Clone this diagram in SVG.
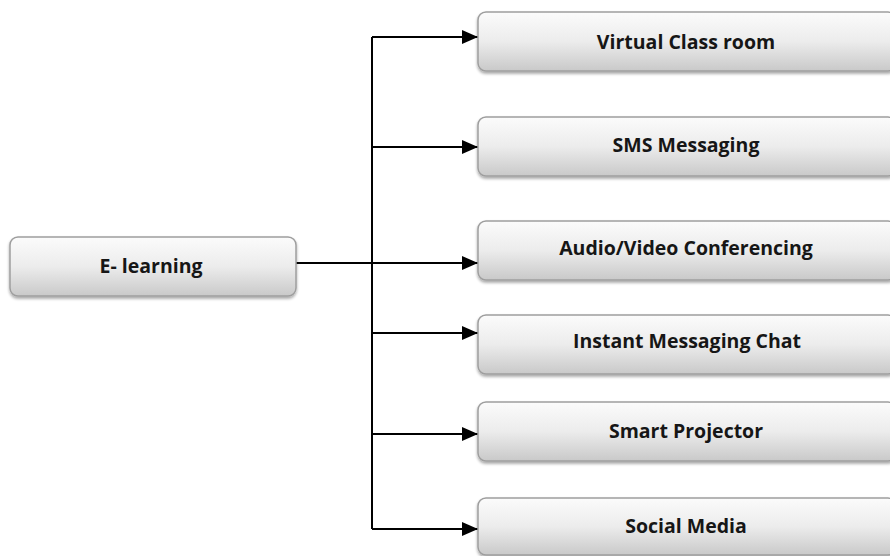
<svg xmlns="http://www.w3.org/2000/svg" width="890" height="556" viewBox="0 0 890 556">
<defs>
<linearGradient id="g" x1="0" y1="0" x2="0" y2="1">
<stop offset="0" stop-color="#fbfbfb"/>
<stop offset="0.5" stop-color="#ececec"/>
<stop offset="1" stop-color="#c9c9c9"/>
</linearGradient>
<filter id="sh" x="-5%" y="-10%" width="110%" height="130%">
<feGaussianBlur in="SourceAlpha" stdDeviation="1.5"/>
<feOffset dx="0" dy="2" result="b"/>
<feComponentTransfer><feFuncA type="linear" slope="0.35"/></feComponentTransfer>
<feMerge><feMergeNode/><feMergeNode in="SourceGraphic"/></feMerge>
</filter>
<marker id="ah" markerWidth="16" markerHeight="14" refX="16" refY="7" orient="auto" markerUnits="userSpaceOnUse">
<path d="M0,0 L16,7 L0,14 Z" fill="#000"/>
</marker>
</defs>
<style>
.box{fill:url(#g);stroke:#9e9e9e;stroke-width:1.5;filter:url(#sh)}
.t{font-family:"Open Sans","Liberation Sans",sans-serif;font-weight:bold;font-size:19.5px;fill:#161616;text-anchor:middle;dominant-baseline:central}
.c{fill:none;stroke:#000;stroke-width:2}
</style>
<g id="connectors">
<path class="c" d="M296,263 H478" marker-end="url(#ah)"/>
<path class="c" d="M372,37 V529"/>
<path class="c" d="M372,37 H478" marker-end="url(#ah)"/>
<path class="c" d="M372,147 H478" marker-end="url(#ah)"/>
<path class="c" d="M372,333 H478" marker-end="url(#ah)"/>
<path class="c" d="M372,434 H478" marker-end="url(#ah)"/>
<path class="c" d="M372,529 H478" marker-end="url(#ah)"/>
</g>
<g id="elearning">
<rect class="box" x="10" y="237" width="286" height="59" rx="8"/>
<text class="t" x="151" y="265">E- learning</text>
</g>
<g id="virtual">
<rect class="box" x="478" y="12" width="418" height="59" rx="8"/>
<text class="t" x="686" y="41">Virtual Class room</text>
</g>
<g id="sms">
<rect class="box" x="478" y="117" width="418" height="59" rx="8"/>
<text class="t" x="686" y="144">SMS Messaging</text>
</g>
<g id="audio">
<rect class="box" x="478" y="221" width="418" height="59" rx="8"/>
<text class="t" x="686" y="247">Audio/Video Conferencing</text>
</g>
<g id="instant">
<rect class="box" x="478" y="315" width="418" height="59" rx="8"/>
<text class="t" x="687" y="340">Instant Messaging Chat</text>
</g>
<g id="projector">
<rect class="box" x="478" y="402" width="418" height="59" rx="8"/>
<text class="t" x="686" y="430">Smart Projector</text>
</g>
<g id="social">
<rect class="box" x="478" y="498" width="418" height="57" rx="8"/>
<text class="t" x="686" y="525">Social Media</text>
</g>
</svg>
